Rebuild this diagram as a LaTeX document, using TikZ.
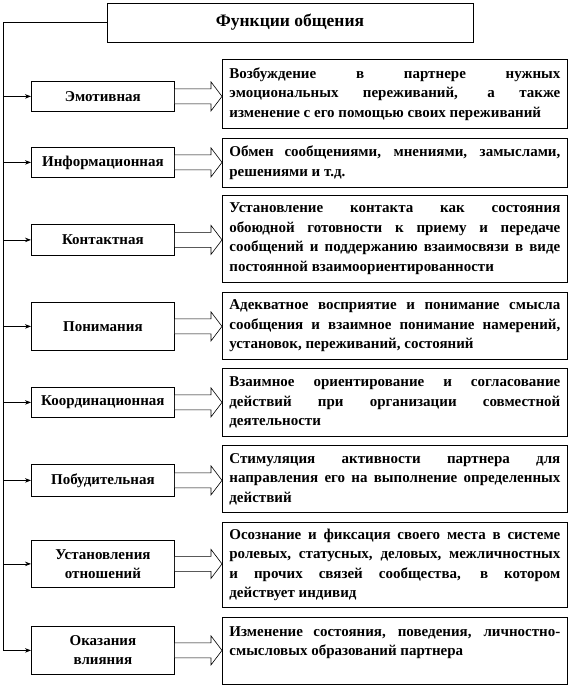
\documentclass[tikz,border=0pt]{standalone}
\usepackage{fontspec}
\setmainfont{Liberation Serif}
\usetikzlibrary{arrows.meta,calc}

\begin{document}
\begin{tikzpicture}[x=1pt,y=-1pt,
    func/.style={draw=black, line width=0.8pt, fill=white, anchor=north west,
        minimum width=143pt, align=center, inner sep=2pt,
        font=\fontsize{15}{19}\selectfont\bfseries},
    descr/.style={draw=black, line width=0.8pt, fill=white, anchor=north west,
        text width=331pt, inner xsep=7pt, inner ysep=3pt, align=justify,
        font=\fontsize{15}{19.5}\selectfont\bfseries},
    link/.style={line width=0.8pt, -{Stealth[length=6pt,width=4.5pt]}},
    blockarrow/.style={draw=black, line width=0.6pt, fill=white}]

    \useasboundingbox (0,0) rectangle (571,687);

    % Заголовок
    \node[draw=black, line width=0.8pt, minimum width=366pt, minimum height=39pt,
        font=\fontsize{17.5}{20}\selectfont\bfseries] (title) at (290,22.5) {Функции общения};

    % Функции (слева)
    \node[func, minimum height=30pt] (f1) at (31,81) {Эмотивная};
    \node[func, minimum height=30pt] (f2) at (31,147) {Информационная};
    \node[func, minimum height=31pt] (f3) at (31,224) {Контактная};
    \node[func, minimum height=48pt] (f4) at (31,302) {Понимания};
    \node[func, minimum height=30pt] (f5) at (31,387) {Координационная};
    \node[func, minimum height=32pt] (f6) at (31,464) {Побудительная};
    \node[func, minimum height=47pt] (f7) at (31,540) {Установления\\отношений};
    \node[func, minimum height=48pt] (f8) at (31,626) {Оказания\\влияния};

    % Описания (справа)
    \node[descr, minimum height=69pt] (d1) at (222,59) {Возбуждение в партнере нужных\linebreak
        эмоциональных переживаний, а также\linebreak изменение с его помощью своих переживаний};
    \node[descr, minimum height=49pt] (d2) at (222,138) {Обмен сообщениями, мнениями, замыслами,\linebreak
        решениями и т.д.};
    \node[descr, minimum height=87pt] (d3) at (222,195) {Установление контакта как состояния\linebreak
        обоюдной готовности к приему и передаче\linebreak сообщений и поддержанию взаимосвязи в виде\linebreak
        постоянной взаимоориентированности};
    \node[descr, minimum height=67pt] (d4) at (222,292) {Адекватное восприятие и понимание смысла\linebreak
        сообщения и взаимное понимание намерений,\linebreak установок, переживаний, состояний};
    \node[descr, minimum height=68pt] (d5) at (222,368) {Взаимное ориентирование и согласование\linebreak
        действий при организации совместной\linebreak деятельности};
    \node[descr, minimum height=67pt] (d6) at (222,445) {Стимуляция активности партнера для\linebreak
        направления его на выполнение определенных\linebreak действий};
    \node[descr, minimum height=85pt] (d7) at (222,522) {Осознание и фиксация своего места в системе\linebreak
        ролевых, статусных, деловых, межличностных\linebreak и прочих связей сообщества, в котором\linebreak
        действует индивид};
    \node[descr, minimum height=67pt] (d8) at (222,617) {Изменение состояния, поведения, личностно-\linebreak
        смысловых образований партнера\\\mbox{}};

    % Общая линия слева
    \coordinate (spinetop) at (3,22.5);
    \draw[line width=0.8pt] (title.west) -- (spinetop) -- (spinetop |- f8.west);

    \foreach \i in {1,...,8} {
        \draw[link] (spinetop |- f\i.west) -- (f\i.west);
        % Объемная стрелка к описанию
        \path (f\i.east) coordinate (a) (d\i.west |- f\i.east) coordinate (b);
        \draw[blockarrow] ($(a)+(0,-7.5)$) -- ($(b)+(-11,-7.5)$) -- ($(b)+(-11,-14.5)$) -- (b)
            -- ($(b)+(-11,14.5)$) -- ($(b)+(-11,7.5)$) -- ($(a)+(0,7.5)$);
    }
\end{tikzpicture}
\end{document}
